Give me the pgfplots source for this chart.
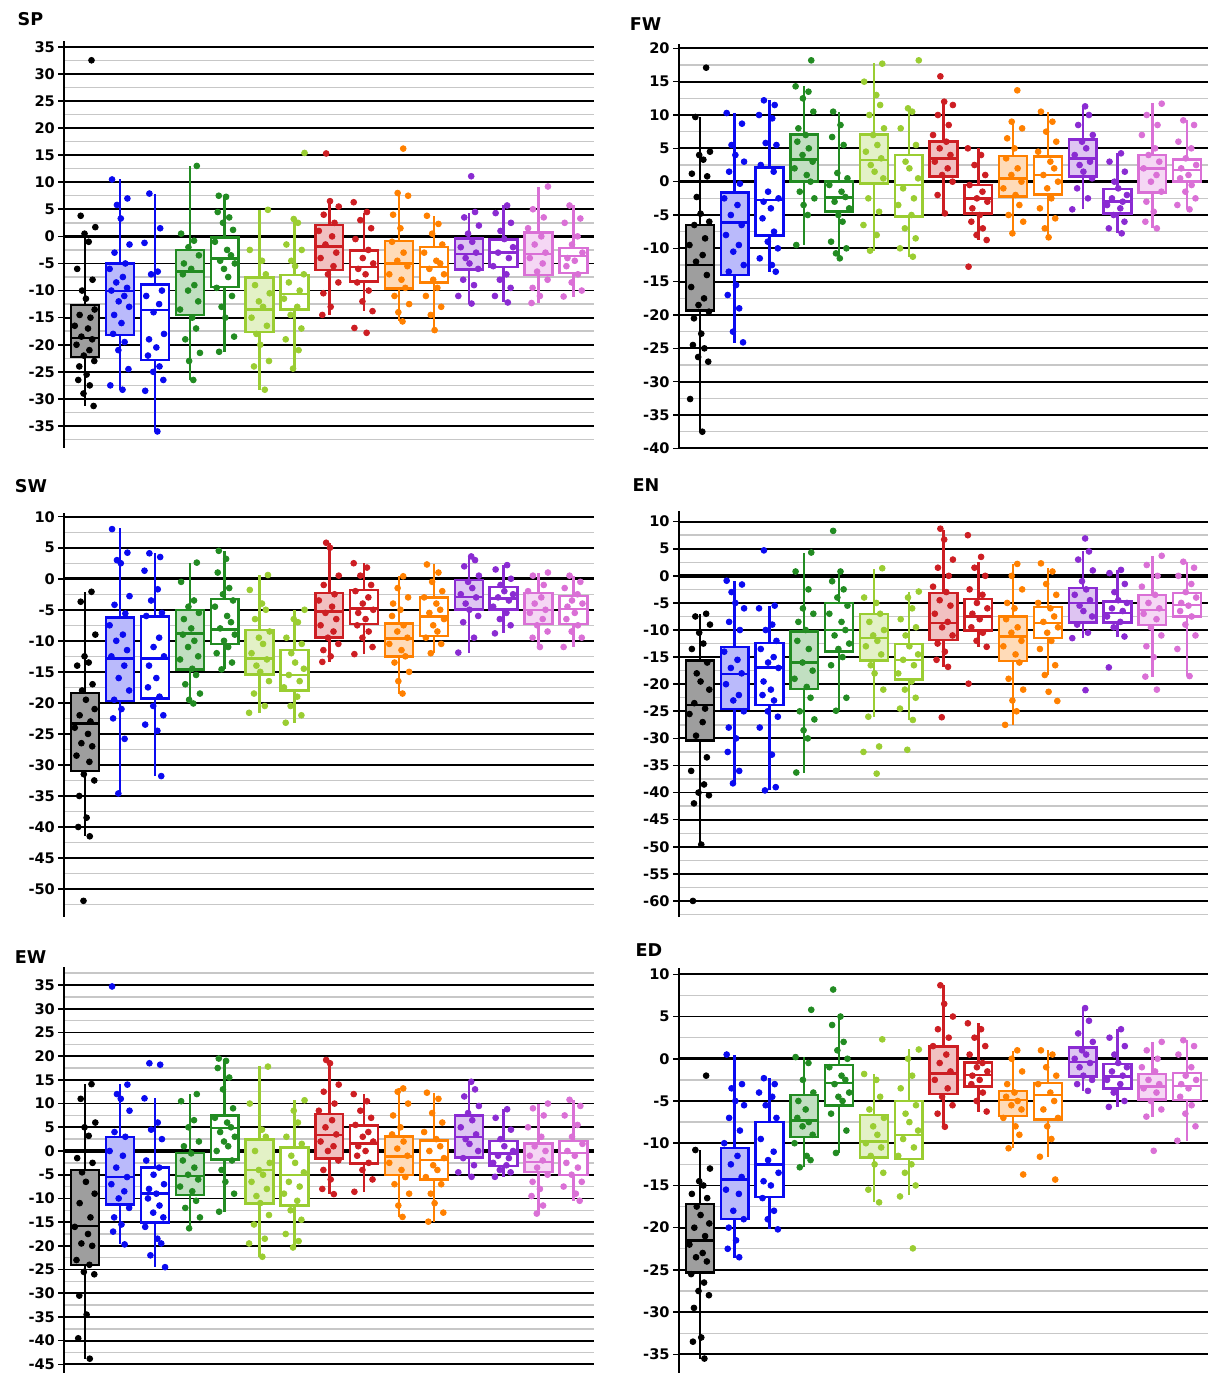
\documentclass[border=0pt]{standalone}
\usepackage{fontspec}
\setmainfont{DejaVu Sans}
\usepackage{pgfplots}
\pgfplotsset{compat=1.18}
\usepgfplotslibrary{statistics}
\definecolor{cK}{RGB}{0,0,0}
\definecolor{cB}{RGB}{10,10,240}
\definecolor{cG}{RGB}{34,139,34}
\definecolor{cY}{RGB}{154,205,50}
\definecolor{cR}{RGB}{205,30,35}
\definecolor{cO}{RGB}{255,128,0}
\definecolor{cP}{RGB}{138,43,210}
\definecolor{cV}{RGB}{218,112,214}
\newcommand\tickfont{\bfseries\fontsize{7.3}{8}\selectfont}
\newcommand\ttlfont{\bfseries\fontsize{8.8}{10}\selectfont}
% fixed horizontal jitter offsets for the dots
\def\jit{{-0.2,0.13,-0.05,0.24,-0.28,0.07,0.18,-0.13,0.29,-0.02,0.1,-0.23,0.21,-0.09,0.02,0.27,-0.16,0.15,-0.3,0.08,-0.11,0.2,-0.25,0.12,-0.04,0.26,-0.17,0.04}}
\newcommand\pts[3]{%
  \gdef\ptlist{}%
  \foreach \v [count=\i] in {#3}{%
    \pgfmathparse{#1+\jit[int(mod(\i+5*#1,28))]}%
    \xdef\ptlist{\ptlist(\pgfmathresult,\v)}%
  }%
  \edef\tmp{\noexpand\addplot[only marks, mark=*, mark size=1.45pt, color=#2] coordinates {\ptlist};}%
  \tmp}
\newcommand\grp[9]{%
  \addplot[draw=#2, fill=#3, line width=1.2pt, boxplot prepared={draw direction=y, draw position=#1, lower whisker=#4, lower quartile=#5, median=#6, upper quartile=#7, upper whisker=#8, box extend=0.8, whisker extend=0}] coordinates {};%
  \pts{#1}{#2}{#9}}
\pgfplotsset{panel/.style={
  scale only axis, anchor=north west,
  xmin=0.4, xmax=15.6,
  axis x line=none, axis y line*=left,
  axis line style={line width=0.9pt, black},
  tick align=outside, major tick length=3pt, minor tick length=0pt,
  every tick/.style={black, line width=0.8pt},
  ymajorgrids, yminorgrids,
  major grid style={line width=0.9pt, black},
  minor grid style={line width=0.7pt, black!22},
  /pgf/number format/assume math mode=true,
  yticklabel style={font=\tickfont, inner sep=1.5pt},
  extra y ticks={0}, extra y tick labels={},
  extra y tick style={major grid style={line width=1.7pt, black}, major tick length=0pt},
}}
\begin{document}
\begin{tikzpicture}
\useasboundingbox (0,0) rectangle (604pt,-686.5pt);
% ---------------- SP
\begin{axis}[panel, at={(32.15pt,-20.65pt)}, width=265pt, height=203.2pt, ymin=-39, ymax=36, ytick={-35,-30,...,35}, minor ytick={-37.5,-32.5,...,32.5}]
\grp{1}{cK}{black!38}{-31.3}{-22.3}{-18.8}{-12.7}{0.3}{32.5,3.8,1.7,0.5,-1,-6,-8,-10,-11.5,-13.5,-14.5,-15,-16.5,-17,-18.5,-19,-20,-21,-22,-23,-24,-25.5,-26.5,-27.5,-29,-31.3}
\grp{2}{cB}{cB!28}{-28.3}{-18.2}{-10.1}{-5}{10.5}{10.5,7,5.8,3.3,-1.5,-3,-5,-6,-7.5,-8.5,-9.5,-10,-11,-12,-13,-14.5,-16,-18,-19.5,-21,-24.5,-27.5,-28.3}
\grp{3}{cB}{white}{-36}{-22.8}{-13.6}{-8.85}{7.9}{7.9,1.5,-1.2,-6.5,-7,-10,-11,-12.5,-14,-18,-19,-20.5,-22,-24,-25,-26.5,-28.5,-36}
\grp{4}{cG}{cG!28}{-26.5}{-14.5}{-6.5}{-2.5}{13}{13,0.5,-0.8,-2,-3.5,-5,-6,-7,-9,-10,-12,-13.5,-15,-17,-19,-21.5,-23,-26.5}
\grp{5}{cG}{white}{-21.3}{-9.3}{-4.1}{-0.2}{7.5}{7.5,7.3,4.5,3.5,2.5,1.2,-1,-2.5,-3.5,-4.5,-5,-6,-7.5,-9.5,-11,-13,-15,-18.5,-21.3}
\grp{6}{cY}{cY!28}{-28.3}{-17.6}{-13.5}{-7.6}{4.9}{4.9,-2.5,-4.5,-7,-9,-10.5,-12,-13,-15,-16.5,-18,-20,-23,-24,-28.3}
\grp{7}{cY}{white}{-24.4}{-13.5}{-10.6}{-7.1}{3}{15.4,3.2,2.5,-1.5,-2.5,-4.5,-5.5,-7,-8.5,-10,-11.5,-13,-14.5,-17,-19,-21,-24.4}
\grp{8}{cR}{cR!28}{-14.5}{-6.2}{-1.9}{2.1}{6.7}{15.3,6.5,5.5,4,2.5,1,0,-1.5,-3,-4,-5.5,-7,-8.5,-10.5,-13,-14.5}
\grp{9}{cR}{white}{-13.8}{-8.3}{-5.6}{-2.6}{4.4}{6.3,4.5,3,1.5,-0.5,-2.5,-4,-5,-6,-7,-8.5,-10,-12,-13.8,-16.9,-17.8}
\grp{10}{cO}{cO!28}{-15.7}{-9.6}{-5}{-0.9}{8}{16.2,8,7.5,4,1.5,-1,-3,-4.5,-5.5,-7,-8,-9.5,-11,-12.5,-14,-15.7}
\grp{11}{cO}{white}{-17.3}{-8.5}{-5.7}{-2}{3.8}{3.8,2.3,0.5,-1.5,-3,-4.5,-5,-6,-7,-8,-9.5,-11,-13,-14.5,-17.3}
\grp{12}{cP}{cP!28}{-12.4}{-6.1}{-3.2}{-0.4}{4.4}{11.1,4.5,3.5,2,0.5,-1,-2,-3,-4,-5,-6,-8,-9,-11,-12.4}
\grp{13}{cP}{white}{-12.2}{-5.6}{-3}{-0.6}{5.7}{5.7,4.3,2.5,1,-0.5,-2,-3,-4,-5.5,-7,-8,-9.5,-11,-12.2}
\grp{14}{cV}{cV!28}{-12.3}{-7.1}{-3.3}{0.7}{9.2}{9.2,5,3.5,1.5,0,-1.5,-3,-4,-5,-6.5,-8,-9.5,-11,-12.3}
\grp{15}{cV}{white}{-11.1}{-6.8}{-3.6}{-2.2}{5.7}{5.7,3.3,2.5,0,-1.5,-3,-4,-4.5,-5.5,-7,-8.5,-10,-11.1}
\end{axis}
% ---------------- FW
\begin{axis}[panel, at={(339.5pt,-21.83pt)}, width=264.5pt, height=202.35pt, ymin=-40, ymax=20.7, ytick={-40,-35,...,20}, minor ytick={-37.5,-32.5,...,17.5}]
\grp{1}{cK}{black!38}{-37.5}{-19.35}{-12.5}{-6.5}{9.75}{17.1,9.7,4.5,4,3.3,1.2,0.8,-2.3,-4.8,-6,-6.5,-8.5,-9.5,-11,-12,-14,-15.8,-17.5,-18.5,-19.5,-20.5,-22.8,-24.5,-25,-26.3,-27,-32.6,-37.5}
\grp{2}{cB}{cB!28}{-24.15}{-14}{-6.15}{-1.65}{10.35}{10.3,8.7,5.5,4,3,1.5,-0.3,-2.5,-3.5,-5,-6.5,-8,-9.5,-10.5,-12.5,-13.5,-15.5,-17,-19,-22.5,-24.1}
\grp{3}{cB}{white}{-13.5}{-8.1}{-2.75}{2.1}{12.25}{12.2,11.5,10,9.5,5.8,5.5,2.5,1.5,-1.5,-2.5,-3,-4,-5.5,-7.5,-9,-10,-11.5,-12.5,-13.5}
\grp{4}{cG}{cG!28}{-9.5}{0}{3.35}{7.1}{14.35}{18.2,14.3,13.5,12.5,10.5,8,7,6,5,4,3,2,1,0,-1.5,-2.5,-3.5,-5,-9.5}
\grp{5}{cG}{white}{-11.5}{-4.5}{-2.35}{0}{10.5}{10.5,8.5,6.7,5.5,1.3,0.5,-0.5,-1.5,-2.3,-3,-4,-5,-6,-9,-10,-10.75,-11.5}
\grp{6}{cY}{cY!28}{-10.35}{-0.25}{3.25}{7.1}{17.75}{17.7,15,13,11.5,10,8,7,5.5,4.5,3.5,2.5,1.5,0.5,-2.5,-4.5,-6.5,-8,-10.35}
\grp{7}{cY}{white}{-11.25}{-5.25}{-0.5}{4}{11}{18.2,11,10.5,8,5.5,3,2,0.5,-1,-2.5,-3.5,-5,-7,-8.5,-10,-11.25}
\grp{8}{cR}{cR!28}{-4.75}{0.75}{3.5}{6}{12}{15.8,12,11.5,10,8.5,7,6,5,4,3,2,1,0,-2,-4.75}
\grp{9}{cR}{white}{-8.75}{-4.75}{-2.5}{-0.5}{5}{5,4,2.5,1,-0.5,-1.5,-2.5,-3,-4,-5,-6,-7,-8,-8.75,-12.75}
\grp{10}{cO}{cO!28}{-7.75}{-2.25}{0.5}{3.85}{9}{13.7,9,8,6.5,5,3.5,2,1,0,-1,-2,-3.5,-5,-6,-7.75}
\grp{11}{cO}{white}{-8.35}{-1.9}{1}{3.75}{10.5}{10.5,9,7.5,6,4.5,3,2,1,0,-1,-2.5,-4,-5.5,-7,-8.35}
\grp{12}{cP}{cP!28}{-4.15}{0.75}{3.5}{6.35}{11.35}{11.3,10,8.5,7,6,5,4,3,2.5,1.5,0.5,-1,-2.5,-4.15}
\grp{13}{cP}{white}{-7.75}{-4.75}{-3}{-1.1}{4.25}{4.25,3,1.5,0,-1,-2,-2.5,-3,-3.5,-4,-5,-6,-7,-7.75}
\grp{14}{cV}{cV!28}{-7}{-1.65}{2}{4}{11.75}{11.7,10,8.5,7,5,4,3,2,1,0,-1.5,-3,-4.5,-6,-7}
\grp{15}{cV}{white}{-4.15}{0}{1.75}{3.35}{9.25}{9.2,8.5,6,5,3.5,2.5,2,1,0.5,-0.5,-1.5,-2.5,-3.5,-4.15}
\end{axis}
% ---------------- SW
\begin{axis}[panel, at={(32.15pt,-256.48pt)}, width=265pt, height=202pt, ymin=-54.5, ymax=10.6, ytick={-50,-45,...,10}, minor ytick={-52.5,-47.5,...,7.5}]
\grp{1}{cK}{black!38}{-41.5}{-31}{-23.3}{-18.4}{-2.1}{-2.1,-3.7,-9,-12.5,-13.5,-14,-17,-18,-19.5,-21,-22,-23,-24,-25,-26.5,-27,-28.5,-29.5,-31.5,-32.5,-35,-38.5,-40,-41.5,-51.9}
\grp{2}{cB}{cB!28}{-34.6}{-19.7}{-12.85}{-6.25}{8.1}{8,4.2,3,2.5,-2.8,-4.2,-5.6,-7.5,-9,-10,-11.5,-12.5,-14,-16,-18,-19.5,-21,-22.5,-25.8,-34.6}
\grp{3}{cB}{white}{-31.8}{-19.3}{-12.85}{-6.1}{4.1}{4.1,3.5,1.3,-1.7,-3.5,-5.5,-6,-9.5,-11,-12.5,-14,-16,-17.5,-19,-20.5,-22,-23.5,-24.5,-31.8}
\grp{4}{cG}{cG!28}{-20.1}{-14.6}{-8.8}{-5.05}{2.6}{2.6,-0.5,-3.5,-4.5,-5.5,-6.5,-8,-9,-10,-11,-12.5,-13,-14.5,-15.5,-17,-18.5,-19.5,-20.1}
\grp{5}{cG}{white}{-14.6}{-10.55}{-8.2}{-3.3}{4.5}{4.5,3.2,1,-1.5,-2.5,-3.5,-4.5,-6,-7,-8,-9,-10,-11,-12,-13.5,-14.6}
\grp{6}{cY}{cY!28}{-21.6}{-15.4}{-12.85}{-8.3}{0.6}{0.6,-1.8,-4,-5,-6.5,-8.5,-9.5,-10.5,-12,-13,-14,-15,-16.5,-18.5,-20.5,-21.6}
\grp{7}{cY}{white}{-23.2}{-18}{-15.5}{-11.5}{-5}{-5,-6.5,-7,-9.5,-10.5,-12,-13.5,-14.5,-15.5,-16.5,-17.5,-19,-20.5,-22,-23.2}
\grp{8}{cR}{cR!28}{-13.4}{-9.45}{-5.3}{-2.25}{5.8}{5.8,5,0.5,-1,-2.5,-3.5,-4.5,-5.5,-6.5,-7.5,-8.5,-9.5,-10.5,-11.5,-12.5,-13.4}
\grp{9}{cR}{white}{-12.15}{-7.3}{-4.8}{-1.8}{2.5}{2.5,1.8,0.5,-1,-2,-3,-4,-5,-5.5,-6.5,-7.5,-8.5,-9.5,-11,-12.15}
\grp{10}{cO}{cO!28}{-18.5}{-12.5}{-9.6}{-7.2}{0.4}{0.4,-1.5,-3,-4,-5,-6,-7.5,-8.5,-9.5,-10.5,-11.5,-12.5,-13.5,-15,-16.5,-18.5}
\grp{11}{cO}{white}{-12}{-9.25}{-6.1}{-3}{2.35}{2.3,1,-0.5,-2,-3,-4,-5,-5.5,-6.5,-7.5,-8.5,-9.5,-10.5,-12}
\grp{12}{cP}{cP!28}{-11.9}{-4.95}{-2.9}{-0.2}{3.65}{3.6,3,2,0.5,-0.5,-1.5,-2.5,-3,-4,-5,-6,-7,-9.5,-11.9}
\grp{13}{cP}{white}{-8.8}{-4.95}{-3.2}{-1.3}{2.2}{2.2,1.5,0,-1,-2,-2.5,-3,-3.5,-4.5,-5.5,-6.5,-7.5,-8.8}
\grp{14}{cV}{cV!28}{-10.95}{-7.3}{-5}{-2.25}{1}{1,0.5,-1,-2,-3,-4,-5,-5.5,-6.5,-7.5,-8.5,-9.5,-11}
\grp{15}{cV}{white}{-10.95}{-7.3}{-4.9}{-2.8}{0.5}{0.5,-0.5,-1.5,-2.5,-3.5,-4,-4.5,-5.5,-6.5,-7.5,-8.5,-9.5,-11}
\end{axis}
% ---------------- EN
\begin{axis}[panel, at={(339.5pt,-255.4pt)}, width=264.5pt, height=203.2pt, ymin=-63, ymax=12, ytick={-60,-55,...,10}, minor ytick={-62.5,-57.5,...,7.5}]
\grp{1}{cK}{black!38}{-49.65}{-30.4}{-23.8}{-15.65}{-7}{-7,-7.5,-9,-10.5,-12.5,-13.5,-16,-18,-19.5,-21,-23.5,-24.5,-25.5,-27,-29.5,-33.5,-36,-38.5,-40,-40.5,-42,-49.6,-60}
\grp{2}{cB}{cB!28}{-38.3}{-24.6}{-18.1}{-13.1}{-0.9}{-0.9,-1.6,-3,-5,-6,-8.5,-10,-14,-15.5,-17,-18,-20,-22,-23,-25,-28,-30,-32.5,-36,-38.3}
\grp{3}{cB}{white}{-39.6}{-23.8}{-16.9}{-12.45}{-5.55}{4.7,-5.5,-6,-9,-10,-12,-13.5,-15,-16,-17,-19.5,-21,-22,-23,-25,-26,-28,-33,-39,-39.6}
\grp{4}{cG}{cG!28}{-36.3}{-20.9}{-16}{-10.3}{4.3}{4.3,0.8,-2.5,-6,-7,-8.5,-10,-12,-13.5,-16,-17.5,-19,-20.5,-22.5,-25,-26.5,-28.5,-30,-36.3}
\grp{5}{cG}{white}{-24.9}{-14}{-10}{-5.05}{0.6}{8.3,0.8,-1,-2.5,-4,-5.5,-7,-8.5,-10,-11,-12.5,-13.5,-15,-16.5,-22.5,-24.9}
\grp{6}{cY}{cY!28}{-26}{-15.65}{-11.5}{-7.05}{1.2}{1.4,-4,-5,-7,-8.5,-10,-11,-12,-13,-14.5,-16.5,-18,-21,-26,-31.5,-32.5,-36.5}
\grp{7}{cY}{white}{-26.6}{-19.1}{-15.5}{-12.57}{-2.9}{-2.9,-4,-6,-8,-9.5,-11,-13,-14.5,-15.5,-16.5,-18,-19.5,-21,-22.5,-24.5,-26.6,-32.1}
\grp{8}{cR}{cR!28}{-16.8}{-11.85}{-8.75}{-3.2}{8.5}{8.7,6.7,3,1.5,0,-2,-3,-4.5,-5.5,-7,-8.5,-9.5,-11,-12.5,-14,-15.5,-16.8,-26.1}
\grp{9}{cR}{white}{-13.1}{-10.1}{-7.5}{-4.3}{2.6}{7.5,3.5,1.5,0,-2.5,-3.5,-5,-6,-7,-8,-9.5,-10.5,-12,-13.1,-19.9}
\grp{10}{cO}{cO!28}{-27.5}{-15.7}{-11.2}{-7.5}{2.2}{2.2,0,-2.5,-5,-6,-8,-9.5,-10.5,-12,-13,-14.5,-16,-19,-21,-23,-25,-27.5}
\grp{11}{cO}{white}{-18.3}{-11.5}{-8.75}{-5.7}{1.5}{2.3,0.8,-1.5,-3.5,-5,-6,-7.5,-8.5,-9.5,-10.5,-12,-13.5,-16.5,-18.3,-21.4,-23.1}
\grp{12}{cP}{cP!28}{-11.5}{-8.6}{-5.05}{-2.3}{4.5}{6.9,4.5,3,1,-1,-2.5,-3.5,-4.5,-5.5,-6.5,-7.5,-9,-10.5,-11.5,-21.1}
\grp{13}{cP}{white}{-11.2}{-8.6}{-6.9}{-4.75}{1.1}{1.1,0.5,-1.5,-3,-4.5,-5,-6,-6.5,-7.5,-8.5,-9.5,-11.2,-16.9}
\grp{14}{cV}{cV!28}{-18.6}{-9.05}{-6.3}{-3.5}{3.7}{3.7,2,0,-2,-3.5,-5,-6,-7,-8,-9.5,-11,-13,-15,-18.6,-21}
\grp{15}{cV}{white}{-18.5}{-7.5}{-5.4}{-3.2}{2.6}{2.6,1.5,0,-1.5,-3,-4,-5,-5.5,-6.5,-7.5,-9,-11,-13.5,-18.5}
\end{axis}
% ---------------- EW
\begin{axis}[panel, at={(32.15pt,-483.5pt)}, width=265pt, height=202.95pt, ymin=-46.8, ymax=38.8, ytick={-45,-40,...,35}, minor ytick={-42.5,-37.5,...,37.5}]
\grp{1}{cK}{black!38}{-43.8}{-24.1}{-15.85}{-4}{14.1}{14.1,11,6,5,3.2,-1.5,-2.5,-4.5,-6.5,-9,-11,-14,-16,-17.5,-19.5,-20,-23,-24,-25.5,-26,-30.5,-34.5,-39.5,-43.8}
\grp{2}{cB}{cB!28}{-19.7}{-11.25}{-5.45}{3}{14.1}{34.7,14,12,11,8.5,4,3,0,-1,-3.5,-5.5,-7,-8.5,-10,-12,-14,-15.5,-17,-19.7}
\grp{3}{cB}{white}{-24.55}{-15.05}{-8.95}{-3.45}{11.1}{18.5,18.2,11.1,6,4.5,2.5,-2,-3.5,-5,-7,-8,-9,-10,-11.5,-13,-14,-16,-18.5,-19.5,-22,-24.5}
\grp{4}{cG}{cG!28}{-16.3}{-9.3}{-5.3}{-0.4}{12.1}{12,10.5,6.5,5,2,1,-0.5,-2,-3.5,-5,-6,-7.5,-8.5,-10.5,-12,-14,-16.3}
\grp{5}{cG}{white}{-12.8}{-1.8}{4.8}{7.45}{19.5}{19.5,19,17.5,15.5,13,9,7,6,5,4,3,2,1,0,-2,-4,-6.5,-9,-12.8}
\grp{6}{cY}{cY!28}{-22.3}{-11.05}{-4}{2.45}{17.9}{17.8,10,4.5,3,0,-2.5,-4,-5,-6.5,-8,-9.5,-11,-13.5,-15.5,-18.5,-19.5,-22.3}
\grp{7}{cY}{white}{-20.35}{-11.5}{-5.1}{0.75}{10.75}{10.7,8.5,6,3,1.5,-1,-2.5,-4.5,-6.5,-7.5,-9,-10.5,-12.5,-14.5,-17.5,-19,-20.35}
\grp{8}{cR}{cR!28}{-9.1}{-1.6}{3.4}{7.8}{19.2}{19.2,18.5,14,12.5,10,8.5,6.5,5,3.5,2,1,0,-2,-4,-6,-8,-9.1}
\grp{9}{cR}{white}{-8.6}{-2.65}{1.6}{5.4}{12}{12,10.5,8.5,7,5.5,4,3,2,1,0,-1,-2.5,-4,-6,-8.6}
\grp{10}{cO}{cO!28}{-13.9}{-5.1}{-1.2}{3.1}{13.2}{13.2,12.5,10,7.5,5,3.5,2,0.5,-1,-2.5,-4,-5.5,-7,-9,-11.5,-13.9}
\grp{11}{cO}{white}{-14.9}{-6}{-1.9}{2.25}{12.3}{12.3,11,8,6,4,2.5,1,0,-1.5,-3,-4,-5.5,-7,-9,-11,-13,-14.9}
\grp{12}{cP}{cP!28}{-5.45}{-1.4}{3}{7.5}{14.6}{14.6,13,11.5,9.5,8,6.5,5,3.5,2.5,1.5,0,-1.5,-3,-4.5,-5.45}
\grp{13}{cP}{white}{-5.45}{-3.2}{-0.5}{2.1}{8.8}{8.8,7,4.5,2.5,1,0,-1,-1.5,-2.5,-3,-4,-4.5,-5.45}
\grp{14}{cV}{cV!28}{-13.2}{-4.4}{-2.3}{1.55}{10}{10,9,7.5,5,3,1,0,-1,-2,-3.5,-5,-6.5,-8,-9.5,-11.5,-13.2}
\grp{15}{cV}{white}{-10.5}{-5.1}{-0.4}{2.1}{10.8}{10.8,9.5,7.5,5.5,3,1.5,0,-1,-2.5,-3.5,-5,-6.5,-7.5,-9,-10.5}
\end{axis}
% ---------------- ED
\begin{axis}[panel, at={(339.5pt,-484.2pt)}, width=264.5pt, height=202.25pt, ymin=-37.2, ymax=10.7, ytick={-35,-30,...,10}, minor ytick={-32.5,-27.5,...,7.5}]
\grp{1}{cK}{black!38}{-35.5}{-25.3}{-21.5}{-17.2}{-10.8}{-2,-10.8,-13,-14.5,-15,-16,-16.5,-17.5,-18.5,-19.5,-20,-21,-22,-23,-23.5,-24,-25.5,-26.5,-27.5,-28,-29.5,-33,-33.5,-35.5}
\grp{2}{cB}{cB!28}{-23.55}{-18.95}{-14.3}{-10.6}{0.45}{0.5,-3,-3.5,-5,-5.5,-7,-8.5,-10,-11.5,-12.5,-14,-15.5,-16,-18,-19,-20,-21.5,-22.5,-23.5}
\grp{3}{cB}{white}{-20.2}{-16.35}{-12.5}{-7.5}{-2.25}{-2.3,-3,-4,-4.5,-5.5,-7,-9.5,-11,-12,-13.5,-14.5,-15,-16.5,-18,-19,-20.2}
\grp{4}{cG}{cG!28}{-12.85}{-9.25}{-7.3}{-4.3}{0.25}{5.8,0.2,-0.5,-2.5,-4,-5,-6,-7,-7.5,-8,-9,-10,-11.5,-12,-12.85}
\grp{5}{cG}{white}{-11.15}{-5.55}{-2.9}{-0.75}{5}{8.2,5,4,2,1,0,-1,-2,-2.5,-3,-4,-4.5,-5,-6.5,-8.5,-11.15}
\grp{6}{cY}{cY!28}{-16.95}{-11.7}{-9.8}{-6.65}{-1.8}{2.3,-1.8,-2.5,-4.5,-6,-7,-8,-9,-10,-10.5,-11.5,-12.5,-13.5,-15.5,-17}
\grp{7}{cY}{white}{-16.15}{-11.9}{-9}{-5}{1.1}{1.1,0,-2,-3.5,-5.5,-6.5,-7.5,-8.5,-9.5,-10.5,-11.5,-12.5,-13.5,-15,-16.3,-22.45}
\grp{8}{cR}{cR!28}{-8.05}{-4.2}{-1.75}{1.45}{8.75}{8.7,6.5,5,3.5,2.5,1.5,0.5,-0.5,-1.5,-2.5,-3.5,-4.5,-5.5,-6.5,-8.05}
\grp{9}{cR}{white}{-6.25}{-3.3}{-1.9}{-0.45}{4.2}{4.2,3.5,2.5,1.5,0.5,-0.5,-1,-1.5,-2,-2.5,-3,-4,-5,-6.25}
\grp{10}{cO}{cO!28}{-10.6}{-6.8}{-4.9}{-3.8}{0.95}{1,0,-1.5,-3,-4,-4.5,-5,-5.5,-6,-7,-8,-9,-10.6,-13.7}
\grp{11}{cO}{white}{-11.6}{-7.2}{-4.3}{-2.9}{1.05}{1,0.5,-1,-2,-3,-4,-5,-6,-7,-8,-9.5,-11.6,-14.3}
\grp{12}{cP}{cP!28}{-3.8}{-2.1}{-0.35}{1.35}{6}{6,4.5,3,2,1,0.5,0,-0.5,-1,-2,-2.5,-3,-3.8}
\grp{13}{cP}{white}{-5.7}{-3.5}{-2.1}{-0.6}{3.5}{3.5,2.5,1.5,0.5,-0.5,-1,-1.5,-2,-2.5,-3,-4,-5,-5.7}
\grp{14}{cV}{cV!28}{-6.85}{-4.8}{-3.3}{-1.8}{2}{2,1,0,-1,-1.5,-2.5,-3,-3.5,-4,-5,-6,-6.85,-10.9}
\grp{15}{cV}{white}{-9.7}{-4.9}{-3.2}{-1.65}{2.2}{2.2,1.5,0.5,-1,-2,-2.5,-3,-3.5,-4.5,-5.5,-6.5,-8,-9.7}
\end{axis}
% ---------------- titles
\node[font=\ttlfont, inner sep=0pt] at (15.25pt,-9.75pt) {SP};
\node[font=\ttlfont, inner sep=0pt] at (322.75pt,-12pt) {FW};
\node[font=\ttlfont, inner sep=0pt] at (15.5pt,-243pt) {SW};
\node[font=\ttlfont, inner sep=0pt] at (323pt,-242.75pt) {EN};
\node[font=\ttlfont, inner sep=0pt] at (15.25pt,-478.75pt) {EW};
\node[font=\ttlfont, inner sep=0pt] at (324.5pt,-475.25pt) {ED};
\end{tikzpicture}
\end{document}
